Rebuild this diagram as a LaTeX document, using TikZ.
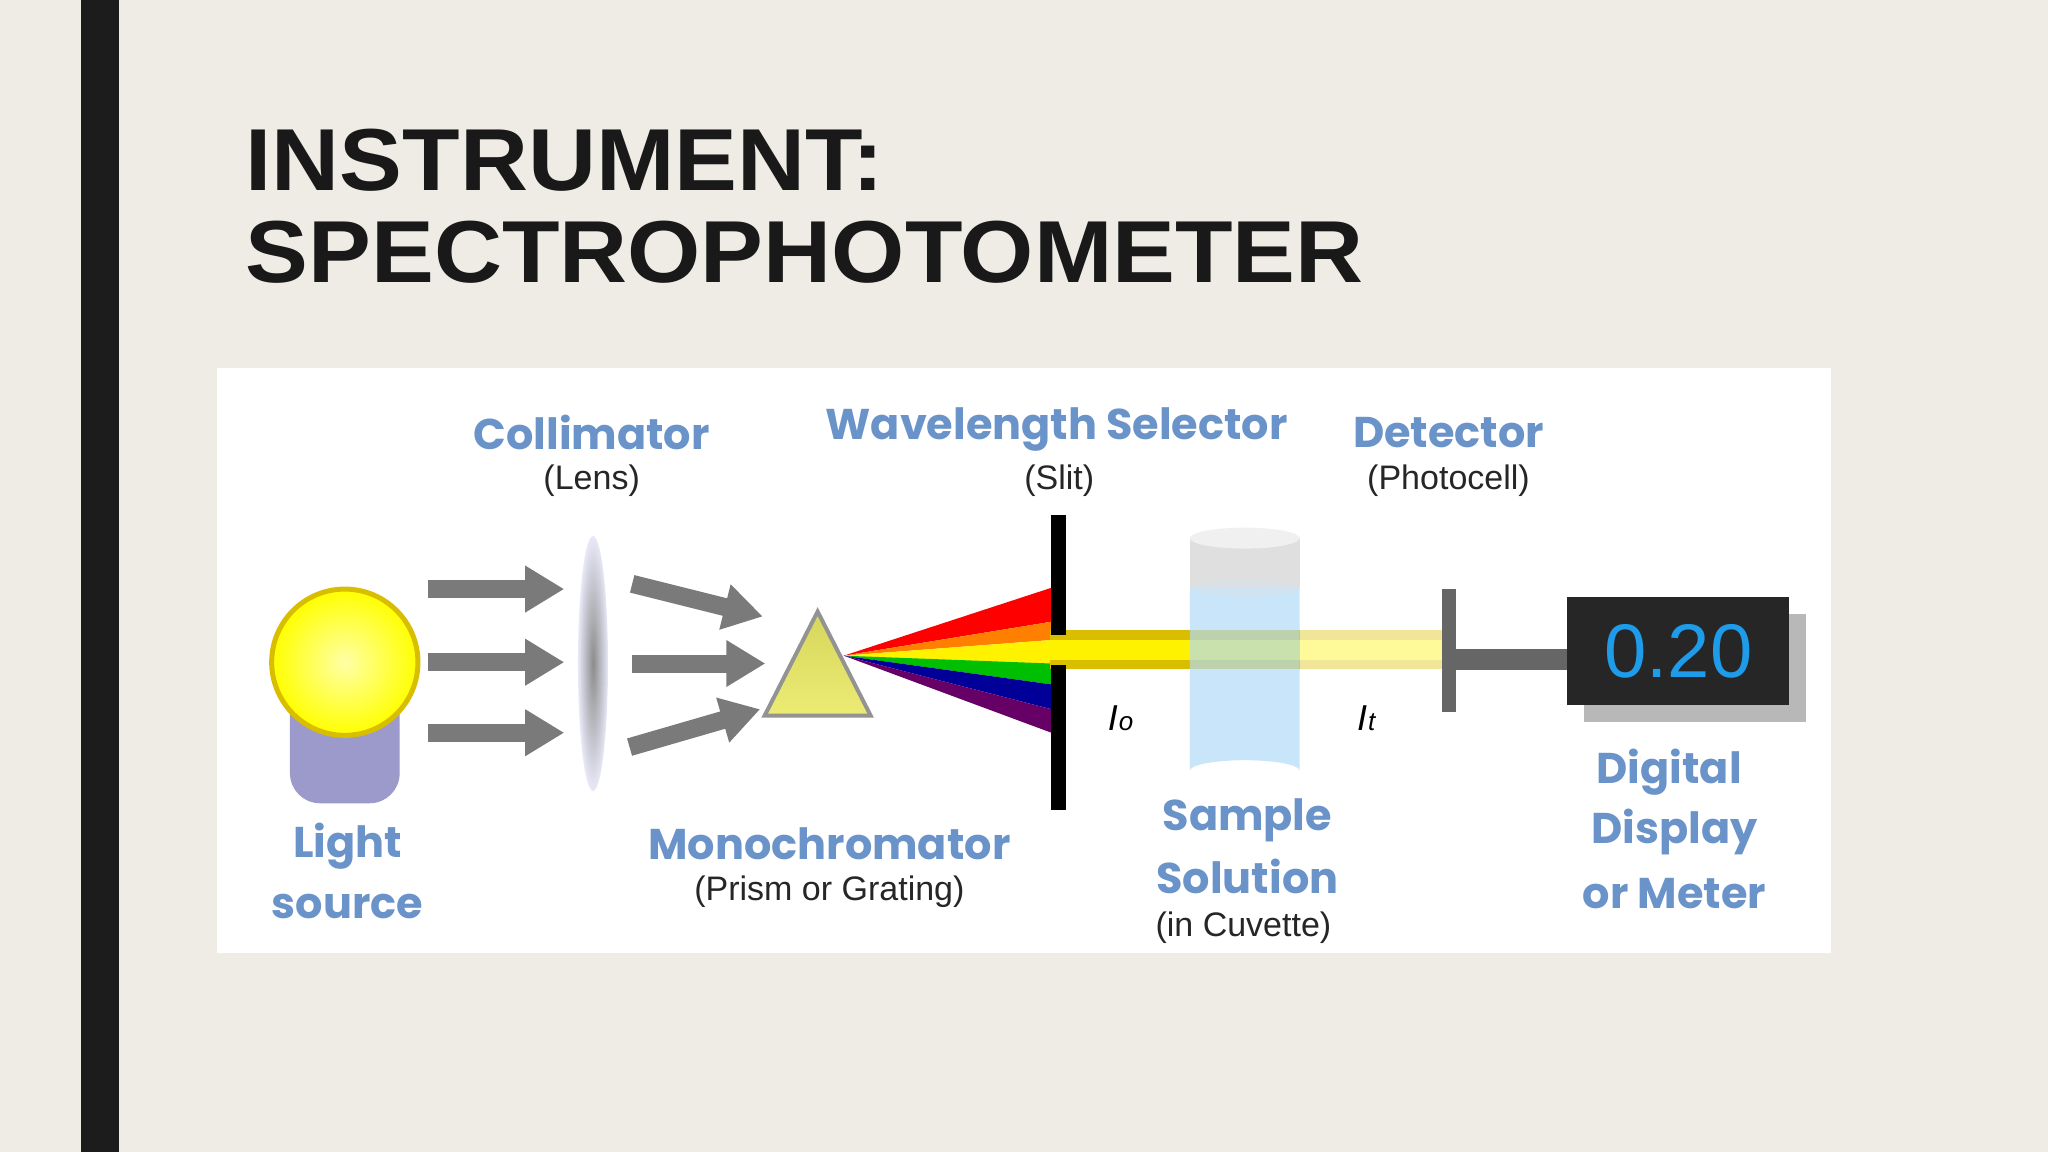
\documentclass[tikz,border=0pt]{standalone}
\usepackage{fontspec}
\setmainfont{Liberation Sans}
\newfontfamily\popp{Poppins}
\usetikzlibrary{arrows.meta,shapes.geometric}
\definecolor{bg}{HTML}{EFECE5}
\definecolor{lab}{HTML}{6A93C9}
\definecolor{garr}{HTML}{7A7A7A}
\definecolor{gold}{HTML}{D9BE00}
\definecolor{liq}{HTML}{B3DAF7}
\tikzset{
 blab/.style={text=lab,font=\popp\bfseries\fontsize{43}{46}\selectfont,inner sep=0pt},
 slab/.style={text=black!85,font=\fontsize{34}{36}\selectfont,inner sep=0pt},
 garrow/.style={draw=garr,line width=18pt,-{Triangle[length=39pt,width=44pt]}},
 ilab/.style={font=\itshape\fontsize{36}{38}\selectfont,inner sep=0pt},
 ttl/.style={anchor=west,inner sep=0pt,font=\bfseries\fontsize{88}{90}\selectfont,text=black!90}
}
\begin{document}
\begin{tikzpicture}[x=1.306pt,y=-1.306pt]
\useasboundingbox (0,0) rectangle (1568,882);
\fill[bg] (0,0) rectangle (1568,882);
\fill[black!88!bg] (62,0) rectangle (91,882);
\node[ttl] (t1) at (188,123) {\scalebox{1.07}[1]{INSTRUMENT:}};
\node[ttl] (t2) at (188,193) {\scalebox{1.07}[1]{SPECTROPHOTOMETER}};
\fill[white] (166,282) rectangle (1402,730);
% light source
\fill[rounded corners=30pt,fill={rgb,255:red,156;green,154;blue,203}] (222,500) rectangle (306,615);
\shade[inner color=yellow!35!white,outer color=yellow,draw=gold,line width=5pt] (264,507) circle (56);
\node[coordinate] (bulb) at (264,507) {};
% arrows
\coordinate (a1s) at (328,451); \coordinate (a1e) at (432,451);
\coordinate (a2s) at (328,507); \coordinate (a2e) at (432,507);
\coordinate (a3s) at (328,561); \coordinate (a3e) at (432,561);
\draw[garrow] (a1s) -- (a1e);
\draw[garrow] (a2s) -- (a2e);
\draw[garrow] (a3s) -- (a3e);
% lens
\node[ellipse,minimum width=30pt,minimum height=255pt,inner sep=0pt,shade,inner color=black!45,outer color={rgb,255:red,232;green,232;blue,248}] (lens) at (454,508) {};
\coordinate (b1s) at (484,447); \coordinate (b1e) at (584,472);
\coordinate (b2s) at (484,508); \coordinate (b2e) at (586,508);
\coordinate (b3s) at (482,572); \coordinate (b3e) at (582,543);
\draw[garrow] (b1s) -- (b1e);
\draw[garrow] (b2s) -- (b2e);
\draw[garrow] (b3s) -- (b3e);
% spectrum fan
\coordinate (P) at (646,502);
\fill[red] (P) -- (805,450) -- (805,476) -- cycle;
\fill[orange] (P) -- (805,476) -- (805,490) -- cycle;
\fill[yellow] (P) -- (805,490) -- (805,510) -- cycle;
\fill[green!75!black] (P) -- (805,508) -- (805,524) -- cycle;
\fill[blue!60!black] (P) -- (805,524) -- (805,543) -- cycle;
\fill[violet!80!black] (P) -- (805,543) -- (805,561) -- cycle;
% prism
\node[isosceles triangle,isosceles triangle apex angle=54,shape border rotate=90,minimum height=104pt,inner sep=0pt,draw=gray!85,line width=4pt,shade,top color=yellow!60!gray!80,bottom color=yellow!55!white!85!gray] (prism) at (626,523) {};
% beam
\fill[gold] (804,482) rectangle (995,512);
\fill[yellow] (804,490) rectangle (995,505);
\fill[gold!40] (995,482) rectangle (1106,512);
\fill[yellow!40] (995,490) rectangle (1106,505);
% slit
\fill[black] (805,394) rectangle (816,486);
\fill[black] (805,509) rectangle (816,620);
\node[coordinate] (slit) at (810,500) {};
% cuvette
\fill[gray!25] (911,412) rectangle (995,450);
\fill[gray!12] (953,412) ellipse (42 and 8);
\fill[liq,opacity=0.7] (911,450) -- (911,590) arc[start angle=180,end angle=360,x radius=42,y radius=8] -- (995,450) -- cycle;
\fill[liq!60!gray!40,opacity=0.5] (953,450) ellipse (42 and 7);
\node[coordinate] (cuv) at (953,500) {};
% detector
\fill[black!60] (1115,497) rectangle (1200,513);
\fill[black!60] (1104,451) rectangle (1115,545);
% display
\fill[black!28] (1213,470) rectangle (1383,553);
\node[fill=black!85,minimum width=222pt,minimum height=108pt,inner sep=0pt,text={rgb,255:red,30;green,155;blue,233},font=\fontsize{76}{76}\selectfont] (disp) at (1285,498.5) {0.20};
% labels
\node[blab] (l1) at (453,331) {Collimator};
\node[slab] (l1s) at (453,368) {(Lens)};
\node[blab] (l2) at (809,329) {Wavelength Selector};
\node[slab] (l2s) at (811,368) {(Slit)};
\node[blab] (l3) at (1109,331) {Detector};
\node[slab] (l3s) at (1109,368) {(Photocell)};
\node[blab] (l4) at (266,648) {Light};
\node[blab] (l4b) at (266,694) {source};
\node[blab] (l5) at (635,646) {Monochromator};
\node[slab] (l5s) at (635,683) {(Prism or Grating)};
\node[blab] (l6) at (955,628) {Sample};
\node[blab] (l6b) at (955,671) {Solution};
\node[slab] (l6s) at (952,710) {(in Cuvette)};
\node[blab] (l7) at (1278,591) {Digital};
\node[blab] (l7b) at (1282,637) {Display};
\node[blab] (l7c) at (1282,684) {or Meter};
\node[ilab] (io) at (858,550) {I\kern1pt{\fontsize{26}{26}\selectfont o}};
\node[ilab] (it) at (1046,550) {I\kern1pt{\fontsize{26}{26}\selectfont t}};
\end{tikzpicture}
\end{document}
